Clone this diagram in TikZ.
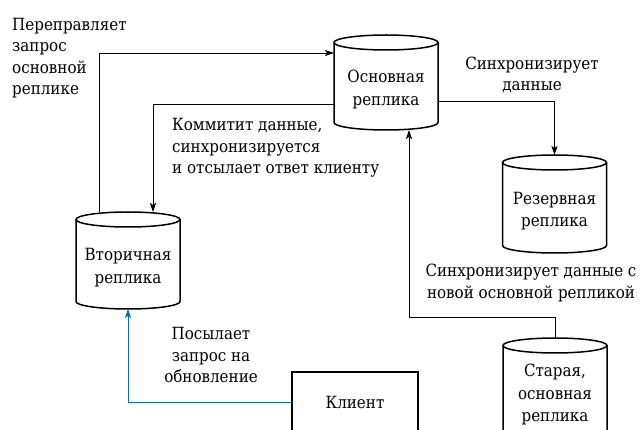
\documentclass[tikz,border=0pt]{standalone}
\usepackage{fontspec}
\newfontfamily\diagfont{DejaVu Serif Condensed}
\usetikzlibrary{arrows.meta}
\definecolor{linkblue}{RGB}{0,112,192}
\tikzset{
  lbl/.style={font=\diagfont\fontsize{16.8}{21.5}\selectfont, inner sep=0pt},
  cyltext/.style={font=\diagfont\fontsize{16.8}{22.5}\selectfont, align=center, inner sep=0pt},
  cylbox/.style={minimum width=104pt, inner sep=0pt, outer sep=0pt},
  cylline/.style={line width=1.5pt},
  conn/.style={line width=0.8pt, -{Stealth[length=9pt,width=6pt,inset=2pt]}},
}
\newcommand\drawcyl[5]{%
  \node[cylbox, minimum height=#4] (#1) at (#2,#3) {};
  \draw[cylline] ([yshift=-7.5pt]#1.north west) -- ([yshift=7.5pt]#1.south west)
     arc[start angle=180,end angle=360,x radius=52pt,y radius=7.5pt]
     -- ([yshift=-7.5pt]#1.north east);
  \draw[cylline] ([yshift=-7.5pt]#1.north) ellipse[x radius=52pt,y radius=7.5pt];
  \node[cyltext] (#1-t) at ([yshift=-7pt]#1.center) {#5};
}
\begin{document}
\begin{tikzpicture}[x=1pt,y=-1pt]
\useasboundingbox (0,0) rectangle (641,430);
\drawcyl{osn}{386}{82.5}{95pt}{Основная\\реплика}
\drawcyl{vtor}{128}{260.5}{97pt}{Вторичная\\реплика}
\drawcyl{rez}{554.5}{204}{98pt}{Резервная\\реплика}
\drawcyl{star}{555}{388}{100pt}{Старая,\\основная\\реплика}
\node[draw, line width=1.5pt, minimum width=126pt, minimum height=60pt, inner sep=0pt,
      font=\diagfont\fontsize{16.8}{22}\selectfont] (klient) at (355,402) {Клиент};

\coordinate (c1) at (409,317);
\draw[conn] (vtor.north -| 99,0) |- (osn.west |- 0,53);
\draw[conn] (osn.west |- 0,104) -| (vtor.north -| 153,0);
\draw[conn] (osn.east |- 0,101) -| (rez.north);
\draw[conn] (star.north) |- (c1) -- (c1 |- osn.south);
\draw[conn, linkblue] (klient.west) -| (vtor.south);

\node[lbl, align=left, anchor=west] (l1) at (12,58) {Переправляет\\запрос\\основной\\реплике};
\node[lbl, align=left, anchor=west] (l2) at (172,148) {Коммитит данные,\\синхронизируется\\и отсылает ответ клиенту};
\node[lbl, align=center] (l3) at (532,75) {Синхронизирует\\данные};
\node[lbl, align=center] (l4) at (531,283) {Синхронизирует данные с\\новой основной репликой};
\node[lbl, align=center] (l5) at (211,355) {Посылает\\запрос на\\обновление};
\end{tikzpicture}
\end{document}
